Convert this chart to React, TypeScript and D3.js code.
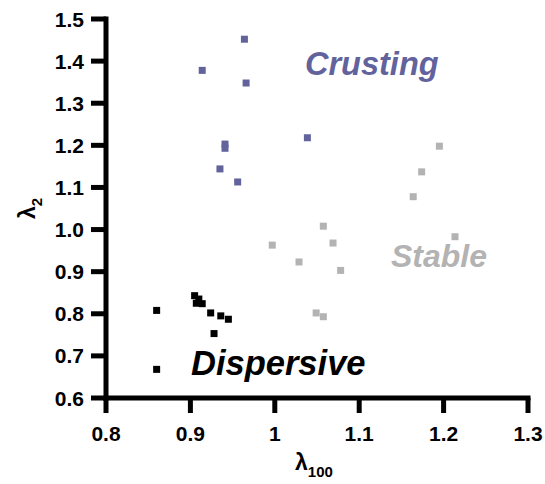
import React from "react";
import * as d3 from "d3";

const crustingX = [0.964, 0.914, 0.966, 0.941, 0.941, 0.935, 0.956, 1.0386];
const crustingY = [1.452, 1.378, 1.348, 1.203, 1.193, 1.144, 1.113, 1.218];

const stableX = [1.195, 1.174, 1.164, 1.2135, 1.0575, 1.069, 1.0287, 1.078, 1.049, 1.0575, 0.997];
const stableY = [1.198, 1.137, 1.078, 0.983, 1.008, 0.968, 0.923, 0.903, 0.802, 0.793, 0.963];

const dispersiveX = [0.86, 0.86, 0.905, 0.91, 0.907, 0.914, 0.924, 0.936, 0.945, 0.928];
const dispersiveY = [0.808, 0.668, 0.843, 0.835, 0.825, 0.824, 0.802, 0.795, 0.787, 0.753];

const xTicks = [0.8, 0.9, 1.0, 1.1, 1.2, 1.3];
const xTickLabels = ["0.8", "0.9", "1", "1.1", "1.2", "1.3"];
const yTicks = [0.6, 0.7, 0.8, 0.9, 1.0, 1.1, 1.2, 1.3, 1.4, 1.5];
const yTickLabels = ["0.6", "0.7", "0.8", "0.9", "1.0", "1.1", "1.2", "1.3", "1.4", "1.5"];

const CRUST = "#62639d";
const STABLE = "#b3b3b3";
const DISP = "#000000";

export default function App() {
  const x = d3.scaleLinear().domain([0.8, 1.3]).range([106, 528]);
  const y = d3.scaleLinear().domain([0.6, 1.5]).range([398, 19]);
  const font = "'Liberation Sans', Arial, Helvetica, sans-serif";
  const sq = 7;
  const series = [
    { xs: crustingX, ys: crustingY, c: CRUST },
    { xs: stableX, ys: stableY, c: STABLE },
    { xs: dispersiveX, ys: dispersiveY, c: DISP },
  ];
  const tl = 13;
  return (
    <svg
      width={545}
      height={484}
      style={{ position: "absolute", left: 0, top: 0 }}
      fontFamily={font}
    >
      <rect width={545} height={484} fill="#fff" />
      {series.map((s, si) =>
        s.xs.map((v, i) => (
          <rect
            key={si + "-" + i}
            x={x(v) - sq / 2}
            y={y(s.ys[i]) - sq / 2}
            width={sq}
            height={sq}
            fill={s.c}
          />
        ))
      )}
      {/* axes */}
      <line x1={x(0.8)} x2={x(0.8)} y1={y(1.5) - 2.5} y2={y(0.6) + 2.5} stroke="#000" strokeWidth={5} />
      <line x1={x(0.8) - 2.5} x2={x(1.3) + 2.5} y1={y(0.6)} y2={y(0.6)} stroke="#000" strokeWidth={5} />
      {xTicks.map((t, i) => (
        <g key={"xt" + i}>
          <line x1={x(t)} x2={x(t)} y1={y(0.6)} y2={y(0.6) + tl + 2} stroke="#000" strokeWidth={5} />
          <text x={x(t)} y={441} textAnchor="middle" fontSize={21} fontWeight="bold">
            {xTickLabels[i]}
          </text>
        </g>
      ))}
      {yTicks.map((t, i) => (
        <g key={"yt" + i}>
          <line x1={x(0.8) - tl - 2} x2={x(0.8)} y1={y(t)} y2={y(t)} stroke="#000" strokeWidth={5} />
          <text x={84} y={y(t) + 7.5} textAnchor="end" fontSize={21} fontWeight="bold">
            {yTickLabels[i]}
          </text>
        </g>
      ))}
      {/* axis titles */}
      <text x={295} y={470} fontSize={23} fontWeight="bold">
        λ<tspan fontSize={15} dy={7}>100</tspan>
      </text>
      <text transform="translate(35,219) rotate(-90)" fontSize={23} fontWeight="bold">
        λ<tspan fontSize={15} dy={7}>2</tspan>
      </text>
      {/* group labels */}
      <text x={305} y={75} fontSize={32.5} fontWeight="bold" fontStyle="italic" fill={CRUST}>
        Crusting
      </text>
      <text x={391} y={267} fontSize={32} fontWeight="bold" fontStyle="italic" fill={STABLE}>
        Stable
      </text>
      <text x={191} y={375} fontSize={34.5} fontWeight="bold" fontStyle="italic" fill={DISP}>
        Dispersive
      </text>
    </svg>
  );
}
